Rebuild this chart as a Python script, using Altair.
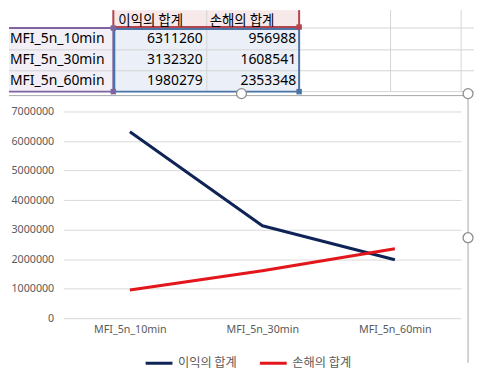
import altair as alt
import pandas as pd

categories = ["MFI_5n_10min", "MFI_5n_30min", "MFI_5n_60min"]
series_names = ["이익의 합계", "손해의 합계"]
profit = [6311260, 3132320, 1980279]
loss = [956988, 1608541, 2353348]
y_ticks = [0, 1000000, 2000000, 3000000, 4000000, 5000000, 6000000, 7000000]

NAVY = "#0f2356"
RED = "#e3161c"
LATIN = "Noto Sans"
KR = "Noto Sans CJK KR"
GRID = "#d4d4d4"

lines_df = pd.DataFrame({
    "category": categories + categories,
    "value": profit + loss,
    "series": [series_names[0]] * 3 + [series_names[1]] * 3,
})
row_df = pd.DataFrame({"row": [1, 2, 3], "category": categories, "profit": profit, "loss": loss})
head_df = pd.DataFrame({"col": [0, 1], "name": series_names})
one = pd.DataFrame({"k": [0]})

# page offsets of the plot area (decoration helpers work in page pixels)
OX, OY = 63, 111


def lx(p):
    return p - OX


def ly(p):
    return p - OY


L, R, T, B = lx(8), lx(476), ly(8), ly(364)
ROW_Y = alt.Y("row:Q", scale=alt.Scale(domain=[1, 3], range=[ly(38), ly(80.5)]), axis=None)


def rect(x, x2, y, y2, **kw):
    return alt.Chart(one).mark_rect(**kw).encode(
        x=alt.value(x), x2=alt.value(x2), y=alt.value(y), y2=alt.value(y2))


def rule(x, x2, y, y2, **kw):
    return alt.Chart(one).mark_rule(**kw).encode(
        x=alt.value(x), x2=alt.value(x2), y=alt.value(y), y2=alt.value(y2))


def square(x, y, color):
    return alt.Chart(one).mark_square(size=30, filled=True, color=color, opacity=1).encode(
        x=alt.value(x), y=alt.value(y))


def handle(x, y):
    return alt.Chart(one).mark_point(shape="circle", size=100, filled=True, fill="white",
                                     stroke="#8c8c8c", strokeWidth=1.3, opacity=1).encode(
        x=alt.value(x), y=alt.value(y))


layers = []
# frame that fixes the chart bounds
layers.append(rect(L, R, T, B, fill="white", opacity=0))
# range fills
layers.append(rect(lx(113), lx(300), ly(9), ly(27), fill="#f7e8ea"))
layers.append(rect(L, lx(113), ly(27), ly(91), fill="#f2eff7"))
layers.append(rect(lx(113), lx(300), ly(27), ly(91), fill="#ebf0f8"))
# spreadsheet gridlines
for p in [27, 49, 70, 91]:
    layers.append(rule(L, R, ly(p), ly(p), color=GRID, strokeWidth=1))
for p in [113, 207, 300, 392, 463]:
    layers.append(rule(lx(p), lx(p), ly(9), ly(91), color=GRID, strokeWidth=1))
# range borders
RB, PB, BB = "#b5444e", "#8064a2", "#4a74a6"
layers.append(rule(lx(113), lx(113), ly(9), ly(26), color=RB, strokeWidth=2))
layers.append(rule(lx(300), lx(300), ly(9), ly(26), color=RB, strokeWidth=2))
layers.append(rule(lx(113), lx(300), ly(26), ly(26), color=RB, strokeWidth=2))
layers.append(rule(L, lx(113), ly(27), ly(27), color=PB, strokeWidth=2))
layers.append(rule(lx(113), lx(113), ly(27), ly(91), color=PB, strokeWidth=2))
layers.append(rule(L, lx(113), ly(91), ly(91), color=PB, strokeWidth=2))
layers.append(rect(lx(114), lx(300), ly(28), ly(91), fill=None, stroke=BB, strokeWidth=2, fillOpacity=0))
layers.append(square(lx(113), ly(27), PB))
layers.append(square(lx(300), ly(26), RB))
layers.append(square(lx(113), ly(91), PB))
layers.append(square(lx(300), ly(91), BB))

# table texts
layers.append(alt.Chart(head_df).mark_text(align="left", baseline="middle", font=KR, fontSize=13.5, color="#000000").encode(
    x=alt.X("col:Q", scale=alt.Scale(domain=[0, 1], range=[lx(118), lx(210)]), axis=None),
    y=alt.value(ly(20)), text="name:N"))
layers.append(alt.Chart(row_df).mark_text(align="left", baseline="middle", font=LATIN, fontSize=14, color="#000000").encode(
    x=alt.value(lx(9)), y=ROW_Y, text="category:N"))
layers.append(alt.Chart(row_df).mark_text(align="right", baseline="middle", font=LATIN, fontSize=14, color="#000000").encode(
    x=alt.value(lx(203)), y=ROW_Y, text=alt.Text("profit:Q", format="d")))
layers.append(alt.Chart(row_df).mark_text(align="right", baseline="middle", font=LATIN, fontSize=14, color="#000000").encode(
    x=alt.value(lx(297)), y=ROW_Y, text=alt.Text("loss:Q", format="d")))

# chart box border and sizing handles
layers.append(rule(L, lx(470), ly(95), ly(95), color="#a6a6a6", strokeWidth=1))
layers.append(rule(lx(470), lx(470), ly(95), B, color="#a6a6a6", strokeWidth=1))
layers.append(handle(lx(242), ly(93)))
layers.append(handle(lx(470), ly(93)))
layers.append(handle(lx(470), ly(238)))

lines = alt.Chart(lines_df).mark_line(strokeWidth=3, strokeJoin="round", strokeCap="butt").encode(
    x=alt.X("category:N", sort=categories, scale=alt.Scale(type="point", padding=0.5),
            axis=alt.Axis(orient="bottom", title=None, labelAngle=0, domain=False, ticks=False, grid=False,
                          labelFont=LATIN, labelFontSize=10.75, labelColor="#595959", labelPadding=6)),
    y=alt.Y("value:Q", scale=alt.Scale(domain=[0, 7000000]),
            axis=alt.Axis(orient="left", title=None, values=y_ticks, format="d", domain=False, ticks=False,
                          grid=True, gridColor="#d9d9d9", labelFont=LATIN, labelFontSize=10.75,
                          labelColor="#595959", labelPadding=10)),
    color=alt.Color("series:N", sort=series_names,
                    scale=alt.Scale(domain=series_names, range=[NAVY, RED]),
                    legend=alt.Legend(title=None, orient="none", legendX=lx(144), legendY=ly(349),
                                      direction="horizontal", symbolType="stroke", symbolSize=729,
                                      symbolStrokeWidth=3, labelFont=KR, labelFontSize=12.3,
                                      labelColor="#595959", labelOffset=4, columnPadding=16, padding=0)),
)
layers.append(lines)

chart = alt.layer(*layers).resolve_scale(x="independent", y="independent").properties(
    width=400, height=208, padding=0, background="white"
).configure_view(stroke=None)

chart.save("out.html", embed_options={"renderer": "svg", "actions": False})
